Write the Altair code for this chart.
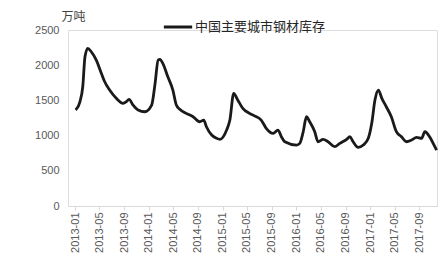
import altair as alt
import pandas as pd

series_name = "中国主要城市钢材库存"

dates = [
    "2013-01-04", "2013-01-25", "2013-02-08", "2013-02-19", "2013-03-05", "2013-03-22",
    "2013-04-16", "2013-05-11", "2013-05-27", "2013-06-21", "2013-07-24", "2013-08-26",
    "2013-09-12", "2013-09-25", "2013-10-15", "2013-11-09", "2013-12-12", "2014-01-15",
    "2014-02-01", "2014-02-16", "2014-02-25", "2014-03-11", "2014-04-05", "2014-04-30",
    "2014-05-17", "2014-06-03", "2014-07-05", "2014-08-08", "2014-09-10", "2014-09-30",
    "2014-10-13", "2014-11-08", "2014-12-02", "2014-12-19", "2015-01-21", "2015-02-06",
    "2015-02-25", "2015-03-17", "2015-04-11", "2015-05-14", "2015-06-08", "2015-07-11",
    "2015-08-05", "2015-09-08", "2015-10-02", "2015-10-19", "2015-11-05", "2016-01-02",
    "2016-01-18", "2016-02-04", "2016-02-20", "2016-03-07", "2016-04-01", "2016-04-17",
    "2016-05-12", "2016-06-06", "2016-07-09", "2016-08-03", "2016-09-06", "2016-09-22",
    "2016-10-08", "2016-11-02", "2016-11-27", "2016-12-22", "2017-01-08", "2017-01-24",
    "2017-02-10", "2017-02-27", "2017-03-21", "2017-04-15", "2017-05-10", "2017-06-04",
    "2017-06-29", "2017-07-24", "2017-08-18", "2017-09-12", "2017-09-28", "2017-10-23",
    "2017-11-08", "2017-11-25",
]

values = [
    1363, 1480, 1694, 2120, 2240, 2191,
    2073, 1884, 1768, 1647, 1529, 1458,
    1481, 1515, 1434, 1363, 1339, 1434,
    1742, 2073, 2083, 2026, 1836, 1647,
    1434, 1373, 1316, 1268, 1197, 1221,
    1126, 1008, 961, 947, 1079, 1221,
    1600, 1505, 1387, 1316, 1280, 1221,
    1103, 1032, 1079, 984, 913, 866,
    890, 1055, 1268, 1197, 1055, 913,
    947, 913, 842, 890, 947, 984,
    913, 833, 866, 961, 1174, 1505,
    1647, 1529, 1410, 1268, 1055, 984,
    913, 937, 975, 961, 1055, 975,
    890, 795,
]

tick_dates = [
    "2013-01-01", "2013-05-01", "2013-09-01", "2014-01-01", "2014-05-01",
    "2014-09-01", "2015-01-01", "2015-05-01", "2015-09-01", "2016-01-01",
    "2016-05-01", "2016-09-01", "2017-01-01", "2017-05-01", "2017-09-01",
]

y_ticks = [0, 500, 1000, 1500, 2000, 2500]

df = pd.DataFrame({"date": dates, "value": values, "series": series_name})

label_font = "Liberation Sans"
cjk_font = "Noto Sans CJK SC"

x_axis = alt.Axis(
    values=[alt.DateTime(year=int(d[:4]), month=int(d[5:7]), date=1) for d in tick_dates],
    format="%Y-%m",
    labelAngle=-90,
    labelFont=label_font,
    labelFontSize=11,
    labelColor="#595959",
    labelPadding=2,
    domainColor="#d9d9d9",
    tickColor="#d9d9d9",
    tickSize=4,
    grid=False,
    title=None,
    labelOverlap=False,
)

y_axis = alt.Axis(
    values=y_ticks,
    format="d",
    labelFont=label_font,
    labelFontSize=11,
    labelColor="#595959",
    labelPadding=9,
    domain=False,
    ticks=False,
    grid=False,
    title="万吨",
    titleAngle=0,
    titleAlign="left",
    titleBaseline="alphabetic",
    titleX=-7,
    titleY=-10,
    titleFont=cjk_font,
    titleFontSize=12,
    titleFontWeight="normal",
    titleColor="#404040",
)

chart = (
    alt.Chart(df)
    .mark_line(strokeWidth=2.8, interpolate="monotone")
    .encode(
        x=alt.X(
            "date:T",
            axis=x_axis,
            scale=alt.Scale(domain=[
                alt.DateTime(year=2012, month=11, date=27),
                alt.DateTime(year=2017, month=11, date=27),
            ]),
        ),
        y=alt.Y("value:Q", axis=y_axis, scale=alt.Scale(domain=[0, 2500], nice=False)),
        color=alt.Color(
            "series:N",
            scale=alt.Scale(range=["#1a1a1a"]),
            legend=alt.Legend(
                title=None,
                orient="none",
                legendX=94,
                legendY=-19,
                symbolType="stroke",
                symbolStrokeWidth=3,
                symbolSize=800,
                labelFont=cjk_font,
                labelFontSize=13,
                labelColor="#262626",
                labelOffset=1,
            ),
        ),
    )
    .properties(
        width=369,
        height=176,
        autosize=alt.AutoSizeParams(type="none"),
        padding={"left": 68, "top": 30, "right": 10, "bottom": 59},
    )
    .configure_view(stroke=None)
    .configure(background="white")
)

chart.save("out.html", embed_options={"renderer": "svg", "actions": False})
